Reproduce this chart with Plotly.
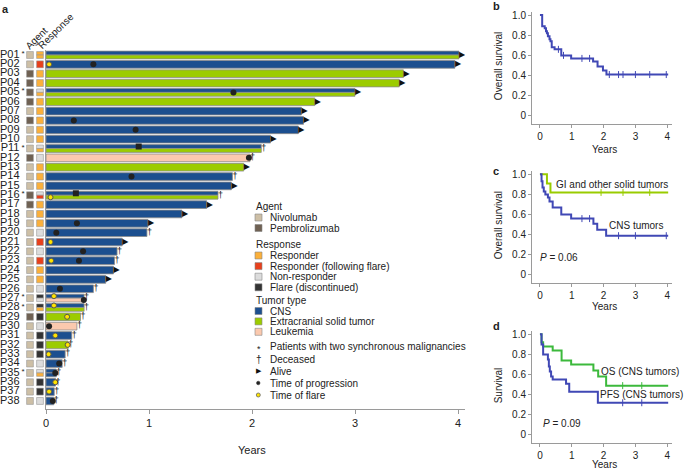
import plotly.graph_objects as go

W, H = 685, 470
FONT = "Liberation Sans, Arial, sans-serif"

# ---- panel a data ----
patients = ['P%02d' % i for i in range(1, 39)]
agent = ['N', 'N', 'P', 'P', 'P', 'P', 'N', 'P', 'N', 'N',
         'N', 'P', 'N', 'N', 'N', 'P', 'P', 'N', 'N', 'N',
         'N', 'N', 'N', 'N', 'N', 'N', 'N', 'N', 'P', 'N',
         'N', 'N', 'N', 'N', 'N', 'N', 'N', 'N']
response = ['R/R', 'RF', 'R', 'R', 'NR/R', 'R', 'R', 'R', 'R', 'R',
            'NR/R', 'NR', 'R', 'R', 'R', 'NR/RF', 'R', 'R', 'R', 'NR',
            'RF', 'NR', 'RF', 'R', 'R', 'NR', 'F/NR', 'F/R', 'F', 'NR',
            'F', 'F', 'F', 'NR', 'NR/R', 'F', 'F', 'NR']
tumor = ['CNS/EXT', 'CNS', 'EXT', 'EXT', 'CNS/EXT', 'EXT', 'CNS', 'CNS', 'CNS', 'CNS',
         'CNS/EXT', 'LEU', 'EXT', 'CNS', 'CNS', 'CNS/EXT', 'CNS', 'CNS', 'CNS', 'CNS',
         'CNS', 'CNS', 'CNS', 'CNS', 'CNS', 'CNS', 'CNS/LEU', 'CNS/EXT', 'EXT', 'LEU',
         'CNS', 'EXT', 'CNS', 'CNS', 'CNS/CNS', 'CNS', 'CNS', 'CNS']
years = [4.01, 3.97, 3.47, 3.43, 3.00, 2.61, 2.48, 2.50, 2.45, 2.18,
         2.09, 1.98, 1.92, 1.81, 1.80, 1.67, 1.56, 1.32, 0.99, 0.98,
         0.74, 0.69, 0.665, 0.655, 0.58, 0.46, 0.37, 0.37, 0.335, 0.30,
         0.25, 0.215, 0.186, 0.157, 0.10, 0.092, 0.08, 0.076]
alive = [1, 1, 1, 1, 1, 1, 1, 1, 1, 1,
         0, 0, 1, 0, 1, 0, 1, 1, 1, 0,
         1, 0, 0, 1, 1, 0, 0, 0, 0, 0,
         0, 0, 0, 0, 0, 0, 0, 0]
# (patient, time, which bar)
progression = [('P02', 0.46, 'c'), ('P05', 1.82, 'c'), ('P08', 0.27, 'c'), ('P09', 0.87, 'c'),
               ('P11', 0.90, 'top'), ('P12', 1.97, 'c'), ('P14', 0.83, 'c'), ('P16', 0.29, 'top'),
               ('P19', 0.30, 'c'), ('P20', 0.10, 'c'), ('P22', 0.36, 'c'), ('P23', 0.32, 'c'),
               ('P26', 0.135, 'c'), ('P27', 0.367, 'bot'), ('P30', 0.03, 'c'), ('P34', 0.128, 'c'),
               ('P35', 0.09, 'c'), ('P38', 0.066, 'c')]
flare = [('P02', 0.03, 'c'), ('P16', 0.044, 'bot'), ('P21', 0.044, 'c'), ('P23', 0.05, 'c'),
         ('P27', 0.077, 'top'), ('P28', 0.077, 'top'), ('P29', 0.205, 'c'), ('P31', 0.09, 'c'),
         ('P32', 0.21, 'c'), ('P33', 0.025, 'c'), ('P36', 0.09, 'c'), ('P37', 0.03, 'c')]

agent_names = {'N': 'Nivolumab', 'P': 'Pembrolizumab'}
resp_names = {'R': 'Responder', 'RF': 'Responder (following flare)',
              'NR': 'Non-responder', 'F': 'Flare (discontinued)'}
tumor_names = {'CNS': 'CNS', 'EXT': 'Extracranial solid tumor', 'LEU': 'Leukemia'}

# ---- panels b-d data ----
b_t = [0, 0.07, 0.15, 0.19, 0.22, 0.25, 0.30, 0.33, 0.37, 0.46, 0.67, 0.98, 1.67, 1.81, 1.98, 2.09, 4.03]
b_s = [1.0, 0.89, 0.87, 0.84, 0.82, 0.79, 0.76, 0.74, 0.68, 0.66, 0.60, 0.57, 0.54, 0.49, 0.45, 0.41, 0.41]
b_cens = [0.58, 0.74, 1.32, 1.56, 2.18, 2.47, 2.61, 3.0, 3.45, 3.97]

c_cns_t = [0, 0.05, 0.08, 0.12, 0.17, 0.25, 0.30, 0.40, 0.67, 0.98, 1.68, 1.80, 2.08, 4.03]
c_cns_s = [1.0, 0.93, 0.87, 0.83, 0.80, 0.77, 0.73, 0.67, 0.60, 0.56, 0.51, 0.45, 0.39, 0.39]
c_cns_cens = [1.32, 1.56, 2.47, 3.0, 3.97]
c_gi_t = [0, 0.22, 0.33, 4.03]
c_gi_s = [1.0, 0.91, 0.82, 0.82]
c_gi_cens = [1.92, 2.61, 3.45]

d_os_t = [0, 0.05, 0.10, 0.40, 0.68, 0.98, 1.68, 1.83, 2.08, 4.03]
d_os_s = [1.0, 0.92, 0.88, 0.84, 0.74, 0.70, 0.64, 0.58, 0.49, 0.49]
d_pfs_t = [0, 0.05, 0.10, 0.25, 0.28, 0.31, 0.35, 0.40, 0.82, 0.92, 1.82, 4.03]
d_pfs_s = [1.0, 0.90, 0.80, 0.75, 0.68, 0.63, 0.58, 0.55, 0.51, 0.43, 0.32, 0.32]

# ---- colours ----
agent_col = {'N': '#cdbfa6', 'P': '#6f6153'}
resp_col = {'R': '#fbb03b', 'RF': '#e8401c', 'NR': '#dcdcdc', 'F': '#333333'}
tumor_col = {'CNS': '#1c4f8f', 'EXT': '#9ccc00', 'LEU': '#fbc9ae'}
km_blue = '#4048b5'
km_lime = '#99cc00'
km_green = '#3cb93c'
txt = '#222222'
axc = '#9a9a9a'


def px(x):
    return x / W


def py(y):
    return 1 - y / H


def step_at(ts, ss, t):
    v = ss[0]
    for a, b in zip(ts, ss):
        if a <= t:
            v = b
    return v


fig = go.Figure()
idx = {p: i for i, p in enumerate(patients)}
part_off = {'c': 0, 'top': -0.21, 'bot': 0.21}

# tumour bars
by, bx, bw, bc = [], [], [], []
for i, p in enumerate(patients):
    parts = tumor[i].split('/')
    if len(parts) == 1:
        by.append(i); bx.append(years[i]); bw.append(0.82); bc.append(tumor_col[parts[0]])
    else:
        for off, t in zip([-0.21, 0.21], parts):
            by.append(i + off); bx.append(years[i]); bw.append(0.41); bc.append(tumor_col[t])
fig.add_trace(go.Bar(y=by, x=bx, width=bw, base=0, orientation='h',
                     marker=dict(color=bc, line=dict(color='#8c8c8c', width=0.8)),
                     xaxis='x', yaxis='y', showlegend=False, hoverinfo='skip'))

# agent / response squares on a side axis
fig.add_trace(go.Bar(y=list(range(len(patients))), x=[0.68] * len(patients), base=2.66,
                     width=0.74, orientation='h',
                     marker=dict(color=[agent_col[a] for a in agent], line=dict(color='#999', width=0.6)),
                     xaxis='x5', yaxis='y', showlegend=False, hoverinfo='skip'))
ry, rw, rc = [], [], []
for i, r in enumerate(response):
    parts = r.split('/')
    if len(parts) == 1:
        ry.append(i); rw.append(0.74); rc.append(resp_col[parts[0]])
    else:
        for off, t in zip([-0.185, 0.185], parts):
            ry.append(i + off); rw.append(0.37); rc.append(resp_col[t])
fig.add_trace(go.Bar(y=ry, x=[0.68] * len(ry), base=3.66, width=rw, orientation='h',
                     marker=dict(color=rc, line=dict(color='#999', width=0.6)),
                     xaxis='x5', yaxis='y', showlegend=False, hoverinfo='skip'))

# patient labels and asterisks
fig.add_trace(go.Scatter(y=list(range(len(patients))), x=[1.95] * len(patients), text=patients,
                         mode='text', textposition='middle left',
                         textfont=dict(family=FONT, size=11, color=txt),
                         xaxis='x5', yaxis='y', showlegend=False, hoverinfo='skip'))
sync = [i for i, t in enumerate(tumor) if '/' in t]
fig.add_trace(go.Scatter(y=[i - 0.1 for i in sync], x=[2.3] * len(sync), text=['*'] * len(sync),
                         mode='text', textfont=dict(family=FONT, size=8, color=txt),
                         xaxis='x5', yaxis='y', showlegend=False, hoverinfo='skip'))

# events
fig.add_trace(go.Scatter(x=[t for _, t, _ in progression],
                         y=[idx[p] + part_off[w] for p, _, w in progression],
                         mode='markers',
                         marker=dict(size=6, color='#222',
                                     symbol=['square' if w == 'top' else 'circle' for _, _, w in progression]),
                         xaxis='x', yaxis='y', showlegend=False, hoverinfo='skip'))
fig.add_trace(go.Scatter(x=[t for _, t, _ in flare],
                         y=[idx[p] + part_off[w] for p, _, w in flare],
                         mode='markers',
                         marker=dict(size=5, color='#ffe400', line=dict(color='#555', width=1)),
                         xaxis='x', yaxis='y', showlegend=False, hoverinfo='skip'))

# end-of-follow-up symbols
al = [i for i in range(len(patients)) if alive[i]]
de = [i for i in range(len(patients)) if not alive[i]]
fig.add_trace(go.Scatter(x=[years[i] for i in al], y=al, text=['\u25B6'] * len(al),
                         mode='text', textposition='middle right',
                         textfont=dict(family='DejaVu Sans', size=8, color='#111'),
                         xaxis='x', yaxis='y', showlegend=False, hoverinfo='skip'))
fig.add_trace(go.Scatter(x=[years[i] for i in de], y=de, text=['\u2020'] * len(de),
                         mode='text', textposition='middle right',
                         textfont=dict(family=FONT, size=9, color='#111'),
                         xaxis='x', yaxis='y', showlegend=False, hoverinfo='skip'))


# KM curves
def km(ts, ss, cens, color, xa, ya):
    fig.add_trace(go.Scatter(x=ts, y=ss, mode='lines', line=dict(color=color, width=2, shape='hv'),
                             xaxis=xa, yaxis=ya, showlegend=False, hoverinfo='skip'))
    if cens:
        fig.add_trace(go.Scatter(x=cens, y=[step_at(ts, ss, t) for t in cens], mode='markers',
                                 marker=dict(symbol='line-ns', size=5, line=dict(color=color, width=1)),
                                 xaxis=xa, yaxis=ya, showlegend=False, hoverinfo='skip'))


km(b_t, b_s, b_cens, km_blue, 'x2', 'y2')
km(c_gi_t, c_gi_s, c_gi_cens, km_lime, 'x3', 'y3')
km(c_cns_t, c_cns_s, c_cns_cens, km_blue, 'x3', 'y3')
km(d_os_t, d_os_s, [2.6, 3.2], km_green, 'x4', 'y4')
km(d_pfs_t, d_pfs_s, [2.6, 3.2], km_blue, 'x4', 'y4')

# ---- axes ----
tick_font = dict(family=FONT, size=11, color=txt)
fig.update_layout(
    xaxis=dict(domain=[px(46), px(465)], range=[0, (465 - 46) / 103], anchor='y', automargin=False,
               showline=True, linecolor=axc, linewidth=1, ticks='outside', ticklen=4, tickcolor=axc,
               tickvals=[0, 1, 2, 3, 4], showgrid=False, zeroline=False, tickfont=tick_font),
    yaxis=dict(domain=[py(409), py(50)], range=[37.86, -0.535], anchor='x', automargin=False,
               showline=True, linecolor=axc, linewidth=1, showticklabels=False, ticks='',
               showgrid=False, zeroline=False),
    xaxis5=dict(domain=[0, px(46)], range=[0, 4.6], anchor='y', visible=False, automargin=False),
)

km_x = dict(range=[-0.25, 4.15], showline=True, linecolor=axc, linewidth=1, ticks='outside', ticklen=3,
            tickcolor=axc, tickvals=[0, 1, 2, 3, 4], showgrid=False, zeroline=False, automargin=False,
            tickfont=dict(family=FONT, size=10, color=txt))
km_y = dict(range=[-0.083, 1.03], showline=True, linecolor=axc, linewidth=1, ticks='outside', ticklen=3,
            tickcolor=axc, tickvals=[0, 0.2, 0.4, 0.6, 0.8, 1.0], automargin=False,
            ticktext=['0', '0.2', '0.4', '0.6', '0.8', '1.0'], showgrid=False, zeroline=False,
            tickfont=dict(family=FONT, size=10, color=txt))
km_dom = {2: (12, 124.3), 3: (171.3, 283.3), 4: (331.3, 443.3)}
for k, (top, bot) in km_dom.items():
    fig.update_layout(**{
        'xaxis%d' % k: dict(km_x, domain=[px(532), px(672)], anchor='y%d' % k),
        'yaxis%d' % k: dict(km_y, domain=[py(bot), py(top)], anchor='x%d' % k),
    })

ann = []


def note(x, y, text, size=10, **kw):
    d = dict(x=px(x), y=py(y), xref='paper', yref='paper', text=text, showarrow=False,
             font=dict(family=FONT, size=size, color=txt), xanchor='center', yanchor='middle')
    d.update(kw)
    ann.append(d)


# panel letters
for x, y, s in [(5, 9, 'a'), (496, 6, 'b'), (496, 171, 'c'), (496, 326, 'd')]:
    note(x, y, '<b>%s</b>' % s, size=11)

# panel a headers and titles
note(36, 38, 'Agent', size=10, textangle=-45)
note(55, 31, 'Response', size=10, textangle=-45)
note(252, 450, 'Years', size=11)

# KM titles
for k, (top, bot), lab in [(2, km_dom[2], 'Overall survival'), (3, km_dom[3], 'Overall survival'),
                           (4, km_dom[4], 'Survival')]:
    note(498, (top + bot) / 2 - 2, lab, size=10, textangle=-90)
for y in [149, 306, 464]:
    note(604, y, 'Years', size=10)

note(612, 185, 'GI and other solid tumors')
note(636, 226, 'CNS tumors')
note(559, 257, '<i>P</i> = 0.06')
note(640, 371, 'OS (CNS tumors)')
note(641, 394, 'PFS (CNS tumors)')
note(562, 423, '<i>P</i> = 0.09')

# ---- legend (drawn by hand) ----
shapes = []
lx_sw, lx_txt, lx_ttl = 255, 268, 254
rows = [('title', 'Agent', None, 206)]
y = 217.5
for k in ['N', 'P']:
    rows.append(('sw', agent_names[k], agent_col[k], y)); y += 10.5
rows.append(('title', 'Response', None, 244))
y = 255.5
for k in ['R', 'RF', 'NR', 'F']:
    rows.append(('sw', resp_names[k], resp_col[k], y)); y += 10.6
rows.append(('title', 'Tumor type', None, 300.5))
y = 311
for k in ['CNS', 'EXT', 'LEU']:
    rows.append(('sw', tumor_names[k], tumor_col[k], y)); y += 10.4
sym_rows = [('*', 'Patients with two synchronous malignancies', 346.5),
            ('\u2020', 'Deceased', 359), ('\u25B6', 'Alive', 371),
            ('dot', 'Time of progression', 383), ('flare', 'Time of flare', 395)]

for kind, label, col, yy in rows:
    if kind == 'title':
        note(lx_ttl, yy, label, xanchor='left')
    else:
        shapes.append(dict(type='rect', xref='paper', yref='paper',
                           x0=px(lx_sw), x1=px(lx_sw + 7), y0=py(yy + 3.5), y1=py(yy - 3.5),
                           fillcolor=col, line=dict(color='#888', width=0.6)))
        note(lx_txt, yy, label, xanchor='left')
for s, label, yy in sym_rows:
    if s == 'dot':
        shapes.append(dict(type='circle', xref='paper', yref='paper',
                           x0=px(256.5), x1=px(260), y0=py(yy + 1.8), y1=py(yy - 1.8),
                           fillcolor='#222', line=dict(color='#222', width=0.5)))
    elif s == 'flare':
        shapes.append(dict(type='circle', xref='paper', yref='paper',
                           x0=px(256.3), x1=px(260.3), y0=py(yy + 2), y1=py(yy - 2),
                           fillcolor='#ffe400', line=dict(color='#666', width=0.8)))
    elif s == '\u25B6':
        ann.append(dict(x=px(258.5), y=py(yy), xref='paper', yref='paper', text=s, showarrow=False,
                        font=dict(family='DejaVu Sans', size=7, color='#111'),
                        xanchor='center', yanchor='middle'))
    else:
        note(258.5, yy + (2 if s == '*' else 0), s, size=9 if s == '*' else 10)
    note(lx_txt, yy, label, xanchor='left')

fig.update_layout(width=W, height=H, margin=dict(l=0, r=0, t=0, b=0, autoexpand=False),
                  paper_bgcolor='white', plot_bgcolor='white',
                  annotations=ann, shapes=shapes, showlegend=False, barmode='overlay',
                  font=dict(family=FONT, color=txt))

# the page body has a default 8px margin; drop it so the figure sits at the window's corner
fig.write_html("out.html", config={'displayModeBar': False},
               post_script="document.body.style.margin='0';")
